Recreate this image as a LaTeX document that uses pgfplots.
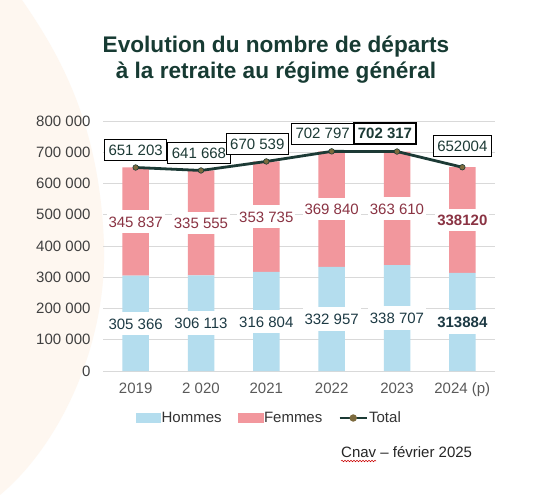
\documentclass[border=0pt]{standalone}
\usepackage{pgfplots}
\pgfplotsset{compat=1.18}
\usepackage{pgfplotstable}
\usepackage{fontspec}
\setmainfont{Liberation Sans}
\usetikzlibrary{decorations.pathmorphing}
\definecolor{hom}{HTML}{B4DDEE}
\definecolor{fem}{HTML}{F2979D}
\definecolor{titc}{HTML}{173B33}
\definecolor{linec}{HTML}{1C3A35}
\definecolor{markc}{HTML}{7D6B3E}
\definecolor{homtxt}{HTML}{1D3A44}
\definecolor{femtxt}{HTML}{8A3343}
\definecolor{peach}{HTML}{FEF7F0}
\definecolor{gridc}{HTML}{D9D9D9}
\definecolor{tickc}{HTML}{404040}
\definecolor{xtickc}{HTML}{595959}

\pgfplotstableread[col sep=comma]{
x,h,f,hmid,fmid,hl,fl
0,305366,345837,152683,478284.5,305 366,345 837
1,306113,335555,153056.5,473890.5,306 113,335 555
2,316804,353735,158402,493671.5,316 804,353 735
3,332957,369840,166478.5,517877,332 957,369 840
4,338707,363610,169353.5,520512,338 707,363 610
5,313884,338120,156942,482944,\textbf{313884},\textbf{338120}
}\bars

\pgfplotstableread[col sep=comma]{
x,t,tl,dx,dy
0,651203,651 203,0,0
1,641668,641 668,-2,0
2,670539,670 539,-9,0
3,702797,702 797,-9,0
4,702317,702 317,-12,0
5,652004,652004,0,3
}\totals

\newcommand{\fs}{\fontsize{15}{18}\selectfont}

\begin{document}
\begin{tikzpicture}[x=1pt,y=1pt]
\useasboundingbox (0,0) rectangle (537,495);
\fill[white] (0,0) rectangle (537,495);
\fill[peach] (22,495) .. controls (60,440) and (100,370) .. (104,250)
  .. controls (107,150) and (60,50) .. (0,0) -- (0,495) -- cycle;

\node[anchor=base, text=titc, font=\fontsize{22.6}{27}\selectfont\bfseries, inner sep=0pt] at (276,442) {Evolution du nombre de départs};
\node[anchor=base, text=titc, font=\fontsize{22.6}{27}\selectfont\bfseries, inner sep=0pt] at (276,416) {à la retraite au régime général};

\begin{axis}[
  at={(103pt,124pt)}, anchor=south west,
  scale only axis, width=392pt, height=250pt,
  xmin=-0.5, xmax=5.5, ymin=0, ymax=800000,
  ybar stacked, bar width=26.5pt,
  axis line style={draw=none},
  tick style={draw=none}, major tick length=0pt,
  ymajorgrids, grid style={gridc, line width=0.8pt},
  ytick={0,100000,200000,300000,400000,500000,600000,700000,800000},
  yticklabels={0,100 000,200 000,300 000,400 000,500 000,600 000,700 000,800 000},
  xtick={0,1,2,3,4,5},
  xticklabels={2019,2 020,2021,2022,2023,2024 (p)},
  /pgf/number format/assume math mode=true,
  yticklabel style={font=\fs, text=tickc, xshift=-9pt},
  xticklabel style={font=\fs, text=xtickc, yshift=-8pt},
  scaled y ticks=false,
]
\addplot[fill=hom, draw=none] table[x=x, y=h] {\bars};
\addplot[fill=fem, draw=none] table[x=x, y=f] {\bars};
\end{axis}

\begin{axis}[
  at={(103pt,124pt)}, anchor=south west,
  scale only axis, width=392pt, height=250pt,
  xmin=-0.5, xmax=5.5, ymin=0, ymax=800000,
  hide axis, clip=false,
  legend columns=3,
  legend style={at={(0.4235,-0.188)}, anchor=center, draw=none, fill=none,
    inner sep=0pt, font=\fs, text=black!80,
    nodes={inner sep=1pt},
    /tikz/every even column/.append style={column sep=15pt}},
]
\addlegendimage{legend image code/.code={\fill[hom] (0pt,-4.5pt) rectangle (24pt,4.5pt);}}
\addlegendentry{Hommes}
\addlegendimage{legend image code/.code={\fill[fem] (0pt,-4.5pt) rectangle (25pt,4.5pt);}}
\addlegendentry{Femmes}

% Hommes labels
\addplot[draw=none, mark=none, forget plot, nodes near coords, point meta=explicit symbolic,
  every node near coord/.append style={anchor=center, fill=white, font=\fs, text=homtxt,
    inner xsep=2pt, inner ysep=6pt, text height=11.5pt, text depth=0pt}]
  table[x=x, y=hmid, meta=hl] {\bars};
% Femmes labels
\addplot[draw=none, mark=none, forget plot, nodes near coords, point meta=explicit symbolic,
  every node near coord/.append style={anchor=center, fill=white, font=\fs, text=femtxt,
    inner xsep=2pt, inner ysep=5.5pt, text height=11.5pt, text depth=0pt}]
  table[x=x, y=fmid, meta=fl] {\bars};

% Total line
\addplot[linec, line width=2.8pt, mark=*, mark size=2.8pt,
  mark options={fill=markc, draw=linec, line width=0.6pt},
  legend image code/.code={\draw[linec, line width=2.8pt] (0pt,0pt) -- (27pt,0pt);
    \fill[markc] (13.5pt,0pt) circle (2.2pt);}]
  table[x=x, y=t] {\totals};
\addlegendentry{Total}

% Total labels
\addplot[draw=none, mark=none, forget plot, nodes near coords, point meta=explicit symbolic,
  skip coords between index={4}{5},
  visualization depends on={\thisrow{dx} \as \dx},
  visualization depends on={\thisrow{dy} \as \dy},
  every node near coord/.append style={anchor=south, fill=white, draw=black, line width=0.8pt,
    font=\fs, text=linec, inner xsep=4pt, inner ysep=5pt, text height=11pt, text depth=0pt,
    xshift=\dx pt, yshift=7pt+\dy pt}]
  table[x=x, y=t, meta=tl] {\totals};
\addplot[draw=none, mark=none, forget plot, nodes near coords, point meta=explicit symbolic,
  every node near coord/.append style={anchor=south, fill=white, draw=black, line width=1.6pt,
    font=\fs\bfseries, text=linec, inner xsep=4pt, inner ysep=5pt, text height=11pt, text depth=0pt,
    xshift=-12pt, yshift=7pt}]
  coordinates {(4,702317) [702 317]};
\end{axis}

\node[anchor=base west, inner sep=0pt, font=\fs, text=black!85] at (341,38) {Cnav – février 2025};
\draw[red!80!black, line width=0.5pt, decorate, decoration={snake, amplitude=0.8pt, segment length=3pt}] (341,34) -- (376,34);
\end{tikzpicture}
\end{document}
